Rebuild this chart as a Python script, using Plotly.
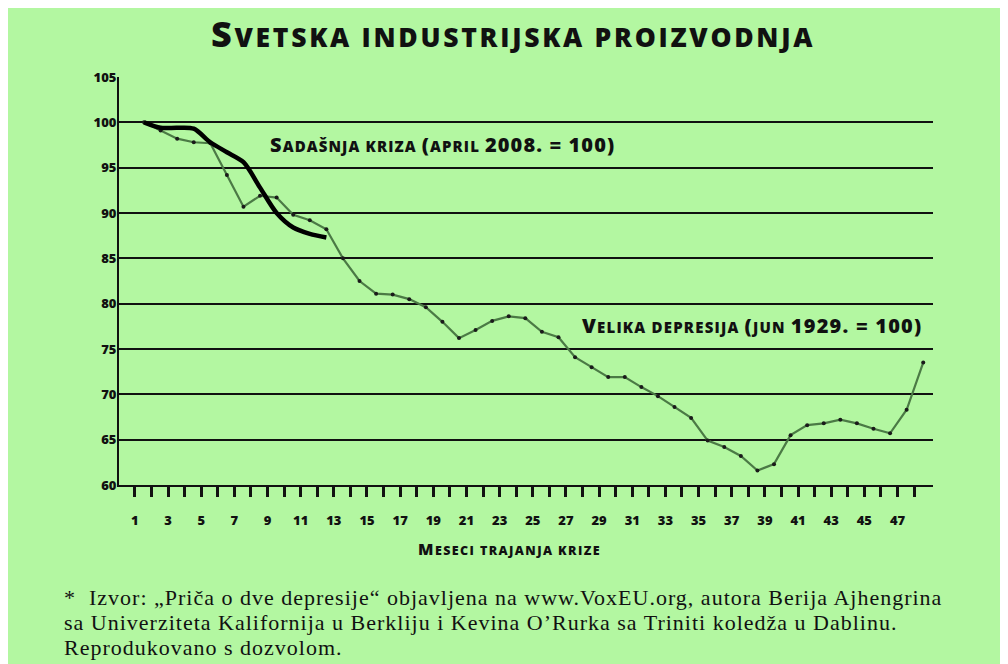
import plotly.graph_objects as go

# ---------------- data ----------------
months_depr = list(range(1, 49))
velika_depresija = [100, 99.1, 98.2, 97.8, 97.7, 94.2, 90.7, 91.9, 91.7, 89.8,
                    89.2, 88.2, 85.0, 82.5, 81.1, 81.0, 80.5, 79.6, 78.0, 76.2,
                    77.1, 78.1, 78.6, 78.4, 76.9, 76.3, 74.1, 73.0, 71.9, 71.9,
                    70.8, 69.8, 68.6, 67.4, 64.9, 64.2, 63.2, 61.6, 62.3, 65.5,
                    66.6, 66.8, 67.2, 66.8, 66.2, 65.7, 68.3, 73.5]
months_now = list(range(1, 13))
sadasnja_kriza = [100, 99.4, 99.4, 99.3, 97.8, 96.7, 95.6, 92.8, 90.0, 88.4, 87.7, 87.3]

x_ticks = list(range(1, 49))
x_ticktext = [str(m) if m % 2 == 1 else "" for m in x_ticks]
y_ticks = [60, 65, 70, 75, 80, 85, 90, 95, 100, 105]

# ---------------- layout constants ----------------
OFF = 8                      # page body margin of the browser
W, H = 1000, 656
ML, MR, MT, MB = 111, 75, 69, 179
PW, PH = W - ML - MR, H - MT - MB
TICK_SHIFT = 0.55
BG = "#b3f7a1"
SANS = "'Open Sans', Lato, sans-serif"
SERIF = "'Liberation Serif', 'DejaVu Serif', serif"


def xp(px):
    return (px - OFF - ML) / PW


def yp(py):
    return (H - MB - (py - OFF)) / PH


def span(t, sz, ls):
    return f"<span style='font-size:{sz}px;letter-spacing:{ls}px'>{t}</span>"


fig = go.Figure()
fig.add_trace(go.Scatter(
    x=months_depr, y=velika_depresija, mode="lines+markers",
    line=dict(color="#4b7a45", width=2.2),
    marker=dict(color="#1a1a1a", size=4),
    hoverinfo="skip", showlegend=False))
fig.add_trace(go.Scatter(
    x=months_now, y=sadasnja_kriza, mode="lines",
    line=dict(color="#000000", width=4.5, shape="spline", smoothing=0.8),
    hoverinfo="skip", showlegend=False))

title_txt = span("S", 36, 2.7) + span("VETSKA INDUSTRIJSKA PROIZVODNJA", 26.5, 2.7)
B, S = 20, 15
ann1 = (span("S", B, 1.1) + span("ADAŠNJA KRIZA ", S, 1.1) + span("(", B, 1.1)
        + span("APRIL ", S, 1.1) + span("2008. = 100)", B, 1.1))
ann2 = (span("V", B, 1.2) + span("ELIKA DEPRESIJA ", S, 1.2) + span("(", B, 1.2)
        + span("JUN ", S, 1.2) + span("1929. = 100)", B, 1.2))
xtitle = span("M", 16, 1.4) + span("ESECI TRAJANJA KRIZE", 12.5, 1.4)

notes = [
    "*  Izvor: „Priča o dve depresije“ objavljena na www.VoxEU.org, autora Berija Ajhengrina",
    "sa Univerziteta Kalifornija u Berkliju i Kevina O’Rurka sa Triniti koledža u Dablinu.",
    "Reprodukovano s dozvolom.",
]

bold_font = dict(family=SANS, color="#111", weight=800)
annotations = [
    dict(text=title_txt, x=xp(513), y=yp(34), xanchor="center", font=bold_font),
    dict(text=ann1, x=xp(268), y=yp(144), xanchor="left", font=bold_font),
    dict(text=ann2, x=xp(580), y=yp(325), xanchor="left", font=bold_font),
    dict(text=xtitle, x=xp(509), y=yp(549), xanchor="center", font=bold_font),
]
for i, t in enumerate(notes):
    annotations.append(dict(text=span(t, 22, 1), x=xp(62), y=yp(597 + 25 * i), xanchor="left",
                            font=dict(family=SERIF, size=22, color="#111")))
for a in annotations:
    a.update(xref="paper", yref="paper", yanchor="middle", showarrow=False)

fig.update_layout(
    width=W, height=H,
    margin=dict(l=ML, r=MR, t=MT, b=MB, pad=0),
    paper_bgcolor=BG, plot_bgcolor=BG,
    annotations=annotations,
    xaxis=dict(range=[-0.508, 48.59], tickmode="array",
               tickvals=[m - TICK_SHIFT for m in x_ticks], ticktext=x_ticktext,
               ticks="outside", ticklen=10, tickwidth=2.5, tickcolor="#111",
               ticklabelstandoff=12,
               showgrid=False, zeroline=False, showline=True, linecolor="#111", linewidth=2,
               tickfont=dict(family=SANS, size=13, color="#111", weight=800)),
    yaxis=dict(range=[60, 105], tickmode="array", tickvals=y_ticks,
               ticks="", showgrid=True, gridcolor="#111", gridwidth=2,
               zeroline=False, showline=True, linecolor="#111", linewidth=2,
               ticklabelstandoff=-2,
               tickfont=dict(family=SANS, size=13, color="#111", weight=800)),
)

fig.write_html("out.html")
